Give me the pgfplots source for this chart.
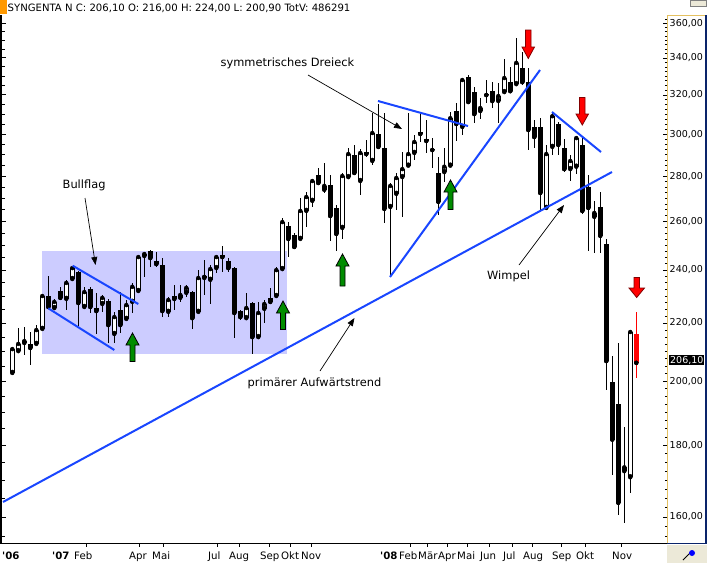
\documentclass[border=0pt]{standalone}
\usepackage{fontspec}
\setmainfont{DejaVu Sans}
\usepackage{pgfplots}
\pgfplotsset{compat=1.18}
\usepackage{pgfplotstable}
\usetikzlibrary{arrows.meta}

\definecolor{lav}{RGB}{204,204,255}
\definecolor{trend}{RGB}{25,70,255}
\definecolor{gold}{RGB}{228,192,96}
\definecolor{panelblue}{RGB}{10,36,106}
\definecolor{xpgray}{RGB}{236,233,216}
\definecolor{upgreen}{RGB}{0,140,0}
\definecolor{dnred}{RGB}{255,0,0}
\definecolor{dkred}{RGB}{130,0,0}
\definecolor{tab}{RGB}{255,153,0}

\newcommand\sz[1]{\fontsize{#1}{#1}\selectfont}

\tikzset{
  month/.style={anchor=base west, inner sep=0pt, font=\sz{10.2}},
  year/.style={anchor=base west, inner sep=0pt, font=\sz{10.2}\bfseries},
  note/.style={anchor=base west, inner sep=0pt, font=\sz{11.4}},
  pointer/.style={black, line width=0.7pt, -{Triangle[length=8pt,width=6pt]}},
  buy/.style={fill=upgreen, draw=black, line width=0.8pt},
  sell/.style={fill=dnred, draw=dkred, line width=0.8pt},
}

% weekly candles, i = week index, o h l c in CHF
\pgfplotstableread{
i o h l c
0 202.7 211.5 202.2 210.8
1 210.1 218.2 209.8 212.6
2 212.9 218.6 208.7 213.6
4 212.6 219.3 212.2 217.5
5 217.9 230.4 217.5 230.0
7 225.5 228.9 224.8 227.8
9 228.9 236.2 224.8 235.0
10 236.5 241.6 236.2 240.8
12 225.9 233.5 225.5 231.5
15 227.0 230.4 224.1 229.3
17 216.1 224.1 212.9 222.2
19 221.5 228.5 221.1 226.6
20 227.8 235.0 223.7 233.5
21 231.9 245.6 231.5 245.2
22 245.6 246.8 237.3 246.4
26 224.1 229.6 222.2 228.5
28 229.3 234.2 227.8 230.4
29 231.2 234.2 229.6 233.1
31 224.1 240.0 223.9 236.9
32 236.9 244.0 230.4 237.3
33 236.2 242.0 227.0 240.4
34 240.8 246.0 238.8 245.2
39 221.8 231.2 221.1 225.5
41 215.0 227.8 214.6 223.7
42 225.2 228.5 220.0 227.0
44 230.0 241.2 229.6 240.0
45 240.4 261.4 240.0 259.7
48 252.6 270.2 252.2 264.5
49 264.5 272.9 257.6 270.6
50 268.9 278.7 266.2 277.8
52 273.8 286.2 272.4 275.6
55 257.2 281.5 252.6 280.1
56 279.6 293.3 279.2 290.4
58 277.8 292.8 271.5 290.9
60 287.1 310.6 285.3 300.6
63 266.2 277.0 237.3 275.6
64 272.0 281.5 264.9 279.2
65 279.6 291.4 261.9 283.3
66 284.9 310.6 284.4 290.4
67 290.9 299.6 287.5 296.2
72 281.9 293.3 277.4 284.4
73 284.9 311.1 284.9 308.0
75 303.6 329.0 299.6 327.9
78 311.6 318.4 307.5 313.2
81 316.8 326.2 305.6 319.4
82 321.5 339.5 321.0 329.0
84 325.7 351.4 325.2 337.3
89 265.8 294.8 265.8 290.4
90 293.8 311.1 289.9 309.0
93 283.3 289.9 277.8 287.1
94 284.4 299.1 281.1 298.1
97 261.9 268.9 246.8 263.6
102 172.5 185.4 158.4 173.6
103 170.8 216.8 166.4 216.8
}\up

\pgfplotstableread{
i o h l c
3 212.6 216.8 205.4 211.2
6 230.0 237.7 225.5 225.9
8 231.9 233.5 228.5 229.3
11 239.2 239.6 218.9 227.4
13 232.7 233.5 223.7 225.9
14 225.5 231.2 216.1 224.4
16 228.1 228.9 212.9 219.3
18 224.8 231.5 216.4 219.3
23 247.6 248.0 241.2 244.8
24 243.6 247.2 241.2 242.4
25 242.0 244.8 222.2 224.4
27 230.0 234.2 224.8 228.9
30 231.5 231.9 217.9 221.8
35 246.0 249.7 239.2 245.2
36 243.6 244.8 239.2 240.8
37 240.8 241.2 214.6 223.7
38 224.4 224.8 221.1 222.2
40 227.4 227.8 209.0 215.0
43 229.3 233.1 227.4 227.8
46 257.9 259.7 245.2 252.6
47 254.3 255.1 248.9 249.3
51 280.6 283.8 276.5 276.9
53 276.0 280.6 251.7 262.3
54 265.8 267.1 247.6 254.7
57 289.9 294.8 280.6 281.5
59 291.4 297.2 288.9 290.4
61 300.1 315.3 293.3 293.8
62 293.3 310.6 259.3 265.4
68 301.1 310.6 296.2 300.1
69 297.6 307.0 290.9 296.7
70 292.8 298.1 283.8 292.3
71 281.5 289.0 262.7 268.5
74 311.6 315.9 296.7 305.1
76 329.6 330.6 315.7 316.3
77 321.5 324.2 305.6 310.1
79 320.4 327.9 315.7 319.9
80 322.0 326.8 313.2 316.8
83 326.8 335.1 321.5 322.0
85 334.5 343.4 325.2 326.8
86 326.8 334.5 292.3 302.1
87 303.6 307.0 293.3 298.6
88 303.6 308.0 264.0 272.4
91 305.1 306.1 289.9 294.8
92 293.3 297.6 282.0 283.3
95 294.8 299.1 263.2 264.5
96 275.1 280.6 247.6 265.8
98 266.2 272.9 246.8 253.9
99 250.5 252.6 197.1 206.7
100 199.7 208.4 171.4 181.7
101 192.7 212.9 160.5 163.8
}\dn

\pgfplotstableread{
i o h l c
104 216.0 224.0 200.9 206.1
}\last

\pgfplotsset{
  chartbox/.style={at={(0pt,20pt)}, anchor=south west, scale only axis,
    width=667pt, height=528pt},
  bars/.style={only marks, mark=none, forget plot,
    error bars/y explicit, error bars/error mark=none},
}

\begin{document}
\begin{tikzpicture}
\path[use as bounding box] (0,0) rectangle (707pt,563pt);

% candles (y is ln of price, so the scale is logarithmic)
\begin{axis}[chartbox, hide axis, clip=false,
  xmin=-2.05, xmax=109.12, ymin=5.032481, ymax=5.899476]
  \fill[lav] (axis cs:4.9,5.342333) rectangle (axis cs:45.833,5.511956);

  % wicks
  \addplot[bars, error bars/y dir=both,
    error bars/error bar style={draw=black, line width=1pt}]
    table[x=i, y expr=ln(\thisrow{c}),
      y error plus expr=ln(\thisrow{h})-ln(\thisrow{c}),
      y error minus expr=ln(\thisrow{c})-ln(\thisrow{l})] {\up};
  \addplot[bars, error bars/y dir=both,
    error bars/error bar style={draw=black, line width=1pt}]
    table[x=i, y expr=ln(\thisrow{c}),
      y error plus expr=ln(\thisrow{h})-ln(\thisrow{c}),
      y error minus expr=ln(\thisrow{c})-ln(\thisrow{l})] {\dn};
  \addplot[bars, error bars/y dir=both,
    error bars/error bar style={draw=dnred, line width=1pt}]
    table[x=i, y expr=ln(\thisrow{c}),
      y error plus expr=ln(\thisrow{h})-ln(\thisrow{c}),
      y error minus expr=ln(\thisrow{c})-ln(\thisrow{l})] {\last};

  % falling weeks
  \addplot[bars, error bars/y dir=plus,
    error bars/error bar style={draw=black, line width=5pt}]
    table[x=i, y expr=ln(\thisrow{c}),
      y error plus expr={max(ln(\thisrow{o})-ln(\thisrow{c}),0.00164)}] {\dn};
  \addplot[bars, error bars/y dir=plus,
    error bars/error bar style={draw=dnred, line width=5pt}]
    table[x=i, y expr=ln(\thisrow{c}),
      y error plus expr={max(ln(\thisrow{o})-ln(\thisrow{c}),0.00164)}] {\last};

  % rising weeks: black box, white inside
  \addplot[bars, error bars/y dir=plus,
    error bars/error bar style={draw=black, line width=5pt}]
    table[x=i, y expr=ln(\thisrow{o}),
      y error plus expr={max(ln(\thisrow{c})-ln(\thisrow{o}),0.00328)}] {\up};
  \addplot[bars, error bars/y dir=plus,
    error bars/error bar style={draw=white, line width=3pt}]
    table[x=i, y expr=ln(\thisrow{o})+0.001642,
      y error plus expr={max(ln(\thisrow{c})-ln(\thisrow{o})-0.003284,0)}] {\up};
\end{axis}

% price scale on the right
\begin{axis}[chartbox, ymode=log, ymin=153.31, ymax=364.85, xmin=0, xmax=1,
  axis x line=none, axis y line*=right,
  y axis line style={draw=gold, line width=1pt, -},
  ytick={160,180,200,220,240,260,280,300,320,340,360},
  yticklabels={{160,00},{180,00},{200,00},{220,00},{240,00},{260,00},
    {280,00},{300,00},{320,00},{340,00},{360,00}},
  minor ytick={155,157.5,...,362.5},
  tick align=inside, major tick length=4pt, minor tick length=2pt,
  tick style={black, line width=0.6pt},
  yticklabel style={font=\sz{9.5}, anchor=west, inner xsep=2.5pt}]
\end{axis}

% tick marks on the left edge
\begin{axis}[chartbox, ymode=log, ymin=153.31, ymax=364.85, xmin=0, xmax=1,
  axis x line=none, axis y line*=left,
  y axis line style={draw=black, line width=4pt, -},
  ytick={160,180,200,220,240,260,280,300,320,340,360}, yticklabels={},
  minor ytick={155,160,...,365},
  tick align=inside, major tick length=6pt, minor tick length=5pt,
  tick style={black, line width=0.8pt}]
\end{axis}

% annotations, in pixel units of the screenshot
\begin{axis}[at={(0pt,0pt)}, anchor=south west, scale only axis,
  width=707pt, height=563pt, xmin=0, xmax=707, ymin=0, ymax=563,
  y dir=reverse, hide axis, clip=false]

  % frame of the price panel and bottom bar
  \fill[tab] (axis cs:0,0) rectangle (axis cs:6.5,14);
  \filldraw[fill=xpgray, draw=gray] (axis cs:690,0.5) rectangle (axis cs:706,6);
  \draw[gold, line width=1pt] (axis cs:667,15) -- (axis cs:706,15);
  \draw[panelblue, line width=1.5pt] (axis cs:706,15) -- (axis cs:706,543.5) -- (axis cs:667,543.5);
  \draw[black, line width=1.5pt] (axis cs:0,543.5) -- (axis cs:667,543.5);
  \fill[xpgray] (axis cs:667,545) rectangle (axis cs:707,563);
  \draw[black, line width=0.8pt] (axis cs:683,560) -- (axis cs:690,553);
  \fill[blue] (axis cs:692,553) circle[radius=3pt];

  \node[anchor=base west, inner sep=0pt, font=\sz{10.1}] at (axis cs:7.5,11.7)
    {SYNGENTA N C: 206,10 O: 216,00 H: 224,00 L: 200,90 TotV: 486291};
  \node[fill=black, text=white, anchor=west, inner xsep=1pt, inner ysep=1pt,
    font=\sz{9.5}] at (axis cs:669,360.3) {206,10};

  % time axis
  \pgfplotsinvokeforeach{86,139,163,217,239,269,290,311,410,427,447,467,489,512,532,561,585,621}{
    \draw[black, line width=0.6pt] (axis cs:#1,544) -- (axis cs:#1,547);}
  \node[year] at (axis cs:2,559.5) {\textquotesingle06};
  \node[year] at (axis cs:52,559.5) {\textquotesingle07};
  \node[month] at (axis cs:74,559.5) {Feb};
  \node[month] at (axis cs:129,559.5) {Apr};
  \node[month] at (axis cs:152,559.5) {Mai};
  \node[month] at (axis cs:208,559.5) {Jul};
  \node[month] at (axis cs:229,559.5) {Aug};
  \node[month] at (axis cs:260,559.5) {Sep};
  \node[month] at (axis cs:281,559.5) {Okt};
  \node[month] at (axis cs:301,559.5) {Nov};
  \node[year] at (axis cs:380,559.5) {\textquotesingle08};
  \node[month] at (axis cs:399,559.5) {Feb};
  \node[month] at (axis cs:418,559.5) {Mär};
  \node[month] at (axis cs:438,559.5) {Apr};
  \node[month] at (axis cs:457,559.5) {Mai};
  \node[month] at (axis cs:480,559.5) {Jun};
  \node[month] at (axis cs:503,559.5) {Jul};
  \node[month] at (axis cs:523,559.5) {Aug};
  \node[month] at (axis cs:552,559.5) {Sep};
  \node[month] at (axis cs:576,559.5) {Okt};
  \node[month] at (axis cs:612,559.5) {Nov};

  % trend lines
  \draw[trend, line width=2pt] (axis cs:3,502) -- (axis cs:612,172);
  \draw[trend, line width=2pt] (axis cs:378,101) -- (axis cs:468,126);
  \draw[trend, line width=2pt] (axis cs:390,277) -- (axis cs:540,70);
  \draw[trend, line width=2pt] (axis cs:552,112) -- (axis cs:601,152);
  \draw[trend, line width=2pt] (axis cs:72.7,265.7) -- (axis cs:138.3,304);
  \draw[trend, line width=2pt] (axis cs:48.3,308.3) -- (axis cs:114.3,350);

  % labels and pointers
  \node[note] at (axis cs:220.5,66.5) {symmetrisches Dreieck};
  \node[note] at (axis cs:62.5,188.5) {Bullflag};
  \node[note] at (axis cs:487,279) {Wimpel};
  \node[note] at (axis cs:247.5,386.5) {primärer Aufwärtstrend};
  \draw[pointer] (axis cs:308,75) -- (axis cs:402,129);
  \draw[pointer] (axis cs:85,198) -- (axis cs:95.5,265);
  \draw[pointer] (axis cs:519,265) -- (axis cs:564,205);
  \draw[pointer] (axis cs:320,371) -- (axis cs:354.5,318);

  % buy signals
  \filldraw[buy] (axis cs:132.5,333) -- (axis cs:139,345) -- (axis cs:135,345) -- (axis cs:135,361.5)
    -- (axis cs:130,361.5) -- (axis cs:130,345) -- (axis cs:126,345) -- cycle;
  \filldraw[buy] (axis cs:283,301) -- (axis cs:289.5,313) -- (axis cs:285.5,313) -- (axis cs:285.5,329.5)
    -- (axis cs:280.5,329.5) -- (axis cs:280.5,313) -- (axis cs:276.5,313) -- cycle;
  \filldraw[buy] (axis cs:342.5,254) -- (axis cs:349,266) -- (axis cs:345,266) -- (axis cs:345,286)
    -- (axis cs:340,286) -- (axis cs:340,266) -- (axis cs:336,266) -- cycle;
  \filldraw[buy] (axis cs:450.5,180) -- (axis cs:457,192) -- (axis cs:453,192) -- (axis cs:453,209.5)
    -- (axis cs:448,209.5) -- (axis cs:448,192) -- (axis cs:444,192) -- cycle;
  % sell signals
  \filldraw[sell] (axis cs:525.5,30) -- (axis cs:531,30) -- (axis cs:531,47) -- (axis cs:534.5,47)
    -- (axis cs:528.3,58.5) -- (axis cs:522,47) -- (axis cs:525.5,47) -- cycle;
  \filldraw[sell] (axis cs:579.5,97.5) -- (axis cs:585,97.5) -- (axis cs:585,114) -- (axis cs:588.5,114)
    -- (axis cs:582.3,125) -- (axis cs:576,114) -- (axis cs:579.5,114) -- cycle;
  \filldraw[sell] (axis cs:634,277.5) -- (axis cs:639.5,277.5) -- (axis cs:639.5,288) -- (axis cs:644.5,288)
    -- (axis cs:636.7,297.5) -- (axis cs:629,288) -- (axis cs:634,288) -- cycle;
\end{axis}
\end{tikzpicture}
\end{document}
